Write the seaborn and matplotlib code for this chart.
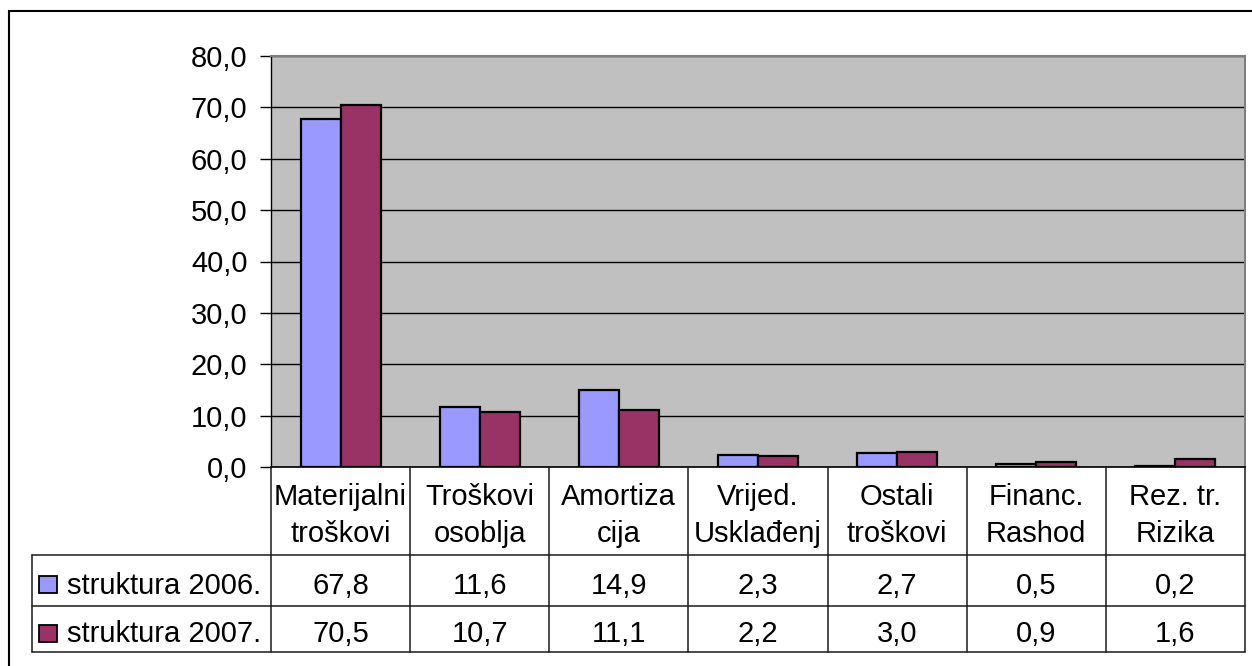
import matplotlib
matplotlib.use("Agg")
import matplotlib.pyplot as plt
import seaborn as sns
import pandas as pd
from matplotlib.ticker import FuncFormatter, MultipleLocator
from matplotlib.transforms import blended_transform_factory
from matplotlib.patches import Rectangle
from matplotlib.lines import Line2D

categories = ["Materijalni\ntroškovi", "Troškovi\nosoblja", "Amortiza\ncija",
              "Vrijed.\nUsklađenj", "Ostali\ntroškovi", "Financ.\nRashod", "Rez. tr.\nRizika"]
series_names = ["struktura 2006.", "struktura 2007."]
values_2006 = [67.8, 11.6, 14.9, 2.3, 2.7, 0.5, 0.2]
values_2007 = [70.5, 10.7, 11.1, 2.2, 3.0, 0.9, 1.6]
colors = ["#9999FF", "#993366"]

sns.set_style("white")
plt.rcParams['font.family'] = ['Liberation Sans', 'DejaVu Sans']

FS = 21
W, H = 1252, 666
fig = plt.figure(figsize=(W / 100, H / 100), dpi=100)
fig.patch.set_facecolor("white")

def fx(x):
    return x / W

def fy(y):
    return 1 - y / H

L, R, T, B = 271, 1245, 56, 467
ax = fig.add_axes([fx(L), fy(B), fx(R) - fx(L), fy(T) - fy(B)])

df = pd.DataFrame({
    "cat": categories * 2,
    "series": [series_names[0]] * len(categories) + [series_names[1]] * len(categories),
    "value": values_2006 + values_2007,
})
sns.barplot(data=df, x="cat", y="value", hue="series", palette=colors,
            saturation=1, width=0.575, gap=0, edgecolor="black", linewidth=1.6,
            legend=False, ax=ax, zorder=3)

ax.set_facecolor("#C0C0C0")
ax.set_xlim(-0.5, len(categories) - 0.5)
ax.set_ylim(0, 80)
ax.yaxis.set_major_locator(MultipleLocator(10))
ax.yaxis.set_major_formatter(FuncFormatter(lambda v, p: f"{v:.1f}".replace(".", ",")))
ax.grid(axis="y", color="black", linewidth=1.0, zorder=1)
ax.set_axisbelow(True)
ax.set_xlabel("")
ax.set_ylabel("")
ax.set_xticks([])
ax.tick_params(axis="y", which="major", left=True, length=8, width=1.0,
               color="black", labelsize=FS, pad=9, direction="out")
for lbl in ax.get_yticklabels():
    lbl.set_color("black")
ax.spines["left"].set_color("black")
ax.spines["left"].set_linewidth(1.0)
ax.spines["bottom"].set_color("black")
ax.spines["bottom"].set_linewidth(1.2)
ax.spines["top"].set_color("#808080")
ax.spines["top"].set_linewidth(1.5)
ax.spines["right"].set_color("#808080")
ax.spines["right"].set_linewidth(1.5)

# Data table below the plot
tr = blended_transform_factory(ax.transData, fig.transFigure)
row_y = [467, 555, 606, 652]
n = len(categories)
lc = "#1a1a1a"
lw = 1.1
for i in range(n + 1):
    fig.add_artist(Line2D([i - 0.5, i - 0.5], [fy(row_y[0]), fy(row_y[-1])],
                          transform=tr, color=lc, linewidth=lw))
for y in row_y[1:]:
    fig.add_artist(Line2D([fx(32), fx(R)], [fy(y), fy(y)],
                          transform=fig.transFigure, color=lc, linewidth=lw))
fig.add_artist(Line2D([fx(32), fx(32)], [fy(row_y[1]), fy(row_y[-1])],
                      transform=fig.transFigure, color=lc, linewidth=lw))

for i, c in enumerate(categories):
    for k, line in enumerate(c.split("\n")):
        fig.text(i, fy(505 + 37 * k), line, transform=tr, ha="center",
                 va="baseline", fontsize=FS, color="black")

for r, (vals, name, col) in enumerate(zip([values_2006, values_2007], series_names, colors)):
    yc = (row_y[r + 1] + row_y[r + 2]) / 2
    base = yc + 13.5
    for i, v in enumerate(vals):
        fig.text(i, fy(base), f"{v:.1f}".replace(".", ","), transform=tr,
                 ha="center", va="baseline", fontsize=FS, color="black")
    fig.add_artist(Rectangle((fx(38.5), fy(base - 1)), fx(18.5), 17 / H,
                             transform=fig.transFigure, facecolor=col,
                             edgecolor="black", linewidth=1.3))
    fig.text(fx(67), fy(base), name, transform=fig.transFigure, ha="left",
             va="baseline", fontsize=FS, color="black")

# Outer chart frame
fig.add_artist(Rectangle((fx(9), fy(700)), fx(1300), (700 - 11) / H,
                         transform=fig.transFigure, facecolor="none",
                         edgecolor="black", linewidth=1.5))

fig.savefig("out.png", dpi=100, facecolor="white")
